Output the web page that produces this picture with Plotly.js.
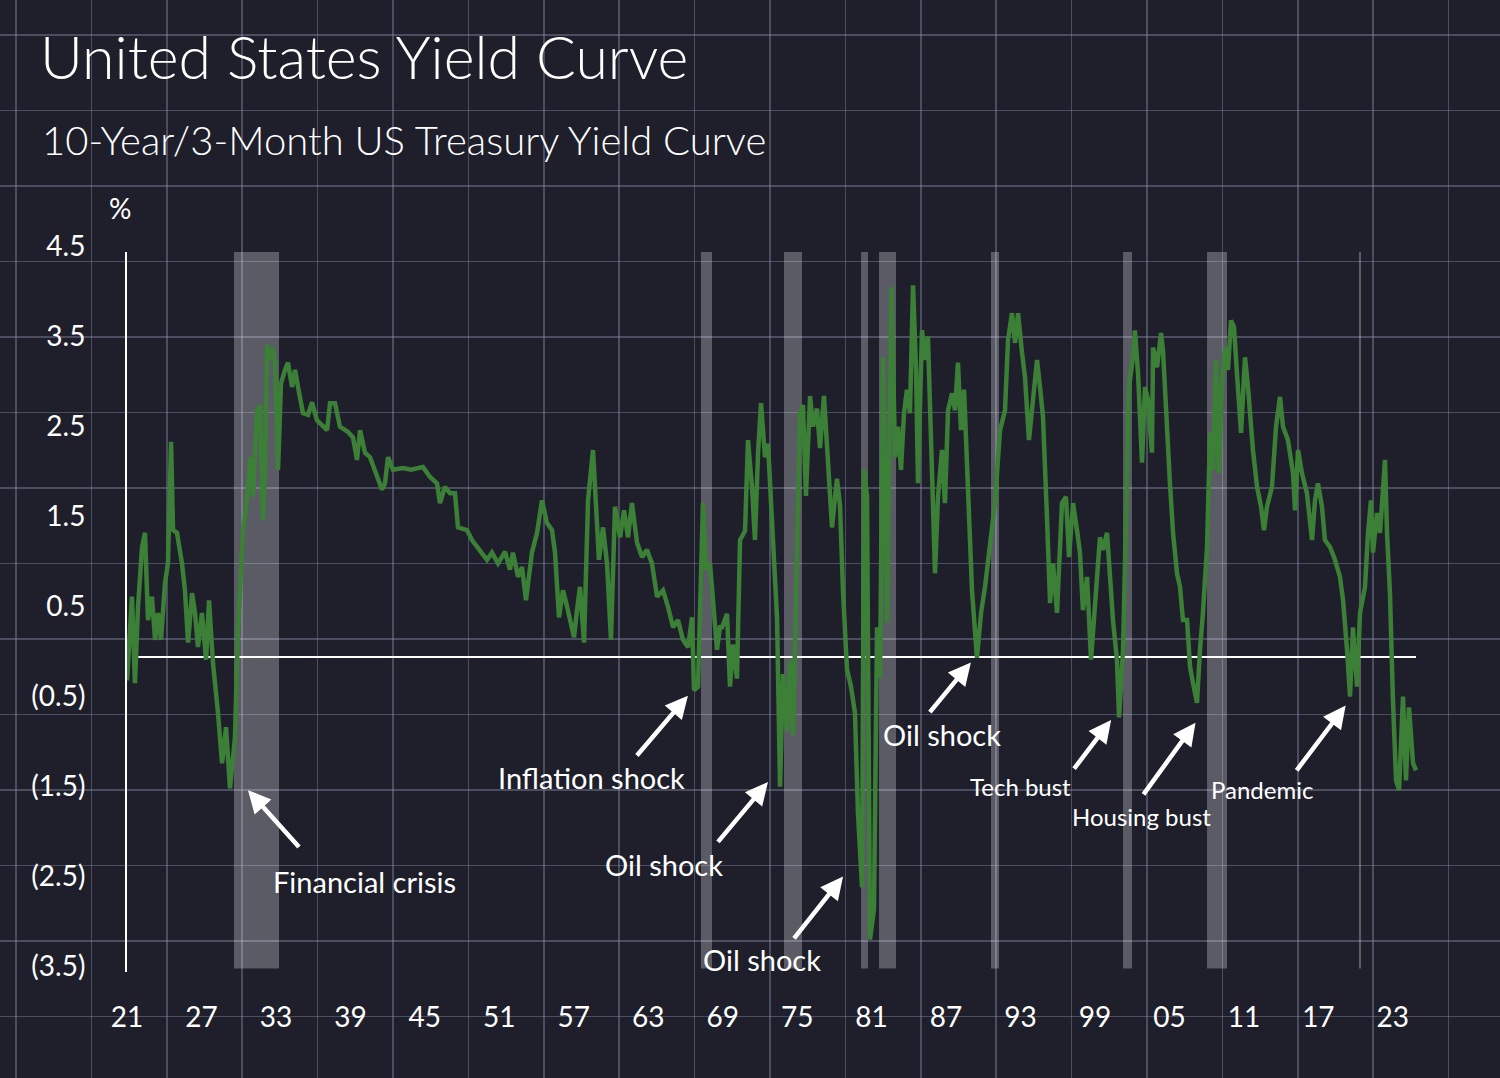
<!DOCTYPE html>
<html><head><meta charset="utf-8">
<script src="https://cdn.plot.ly/plotly-3.0.1.min.js"></script>
<style>html,body{margin:0;padding:0;background:#1e1f2b;}</style>
</head><body><div id="chart" style="width:1500px;height:1078px;"></div>
<script>
// ---- data ----
const years = [
1921.00,1921.40,1921.64,1921.89,1922.21,1922.45,1922.69,1923.01,1923.26,1923.50,1923.74,1924.06,1924.30,1924.55,1924.71,1925.03,1925.43,1925.67,1925.92,1926.24,1926.48,1926.72,1927.04,1927.37,1927.61,1927.93,1928.33,1928.66,1928.98,1929.30,1929.70,1929.94,1930.35,1930.67,1930.91,1931.15,1931.48,1931.72,1931.96,1932.12,1932.28,1932.52,1932.76,1932.93,1933.17,1933.41,1933.73,1933.97,1934.30,1934.54,1934.78,1935.18,1935.58,1935.91,1936.31,1936.79,1937.12,1937.36,1937.76,1938.16,1938.81,1939.21,1939.53,1939.78,1940.18,1940.58,1940.98,1941.23,1941.55,1941.79,1942.03,1942.43,1943.24,1943.88,1944.85,
1945.42,1945.98,1946.22,1946.62,1947.03,1947.43,1947.67,1948.40,1948.80,1949.44,1950.01,1950.41,1950.90,1951.46,1951.86,1952.10,1952.51,1952.83,1953.15,1953.63,1954.04,1954.44,1954.84,1955.25,1955.49,1955.81,1956.13,1956.46,1956.70,1957.02,1957.26,1957.50,1957.83,1958.15,1958.55,1958.79,1959.03,1959.36,1959.68,1960.00,1960.32,1960.73,1961.05,1961.37,1961.69,1962.10,1962.50,1962.90,1963.30,1963.71,1964.19,1964.59,1965.00,1965.40,1965.80,1966.21,1966.53,1966.69,1967.01,1967.41,1967.66,1967.98,1968.22,1968.54,1968.78,
1968.95,1969.35,1969.59,1969.83,1970.15,1970.40,1970.80,1971.04,1971.36,1971.60,1971.85,1972.09,1972.41,1972.65,1972.97,1973.38,1973.62,1973.86,1974.18,1974.42,1974.67,1974.99,1975.23,1975.47,1975.71,1976.04,1976.28,1976.60,1976.84,1977.16,1977.49,1977.81,1978.21,1978.45,1978.70,1979.02,1979.34,1979.66,1979.90,1980.23,1980.39,1980.63,1980.87,1981.19,1981.44,1981.68,1981.92,1982.24,1982.60,1982.89,
1983.13,1983.37,1983.61,1983.85,1984.09,1984.34,1984.58,1984.74,1985.06,1985.30,1985.54,1985.87,1986.11,1986.35,1986.67,1986.91,1987.16,1987.48,1987.72,1987.96,1988.20,1988.45,1988.69,1989.09,1989.49,1989.82,1990.14,1990.54,1990.94,1991.35,1991.75,1991.99,1992.31,1992.56,1992.80,1993.12,1993.36,1993.68,1994.01,1994.33,1994.57,1994.81,1995.13,1995.38,1995.62,1995.94,1996.34,1996.66,1996.91,1997.23,1997.55,1997.79,1998.03,1998.36,1998.68,1999.00,1999.40,1999.65,1999.97,2000.29,2000.45,2000.77,2000.94,2001.26,2001.50,2001.74,2002.06,2002.22,2002.47,2002.79,2003.03,2003.27,2003.59,2003.68,2004.00,2004.32,2004.48,2004.80,2005.04,2005.29,2005.61,2005.85,2006.09,2006.42,2006.66,2006.90,2007.22,2007.46,2007.70,2008.03,2008.27,2008.51,2008.75,2008.99,2009.23,2009.48,2009.72,2009.96,2010.20,2010.44,2010.77,2011.09,2011.33,2011.73,2012.06,2012.38,2012.62,2012.86,2013.26,2013.59,2013.91,2014.15,2014.55,2014.96,2015.12,2015.36,2015.68,2016.08,2016.49,2016.73,2016.97,2017.29,2017.53,2017.94,2018.34,2018.74,2018.99,2019.31,2019.55,2019.79,2020.11,2020.36,2020.76,2021.00,2021.24,2021.40,2021.73,2021.97,2022.21,2022.37,2022.53,2022.77,2023.01,2023.26,2023.50,2023.82,2024.06,2024.30,2024.63,2024.87
];
const spread = [
-0.26,0.67,-0.29,0.56,1.22,1.38,0.41,0.67,0.19,0.49,0.19,0.82,1.04,2.39,1.41,1.38,1.04,0.74,0.16,0.71,0.49,0.11,0.49,-0.03,0.63,-0.07,-0.62,-1.18,-0.78,-1.46,-0.89,0.30,1.41,1.74,2.22,1.78,2.74,2.80,1.52,2.08,3.47,3.30,3.44,3.27,2.08,3.04,3.19,3.27,3.00,3.19,3.00,2.71,2.69,2.83,2.63,2.56,2.52,2.82,2.82,2.56,2.50,2.44,2.19,2.52,2.27,2.22,2.08,1.97,1.86,1.93,2.22,2.08,2.10,2.08,2.11,
2.00,1.93,1.71,1.89,1.82,1.82,1.44,1.41,1.30,1.19,1.08,1.16,1.04,1.17,0.97,1.16,0.89,1.00,0.63,1.16,1.38,1.74,1.49,1.41,1.16,0.44,0.74,0.56,0.41,0.22,0.52,0.78,0.16,1.74,2.30,1.78,1.08,1.44,1.04,0.19,1.67,1.33,1.63,1.33,1.71,1.27,1.11,1.19,1.04,0.67,0.74,0.56,0.33,0.41,0.19,0.11,0.44,-0.37,-0.33,1.71,0.97,1.04,0.56,0.08,0.33,
0.33,0.48,-0.33,0.14,-0.24,1.30,1.40,2.41,1.89,1.30,2.27,2.82,2.22,2.37,1.60,0.43,-1.44,-0.19,-0.82,-0.04,-0.87,1.30,2.71,2.80,1.79,2.90,2.56,2.76,2.32,2.90,2.08,1.44,1.98,1.69,0.72,-0.14,-0.33,-0.62,-1.73,-2.56,2.08,1.79,-3.14,-2.80,0.33,-0.24,3.33,0.38,4.11,2.22,
2.56,2.08,2.71,2.97,2.71,4.13,3.19,1.93,3.63,3.30,3.56,2.00,0.93,1.78,2.30,1.71,2.74,2.93,2.74,3.27,2.52,2.97,2.08,0.74,-0.01,0.49,0.78,1.27,1.71,2.52,2.74,3.52,3.82,3.49,3.82,3.38,3.11,2.41,2.82,3.30,3.00,2.67,1.56,0.60,1.04,0.49,1.71,1.78,1.11,1.71,1.41,1.16,0.52,0.89,-0.03,0.60,1.33,1.19,1.38,0.74,0.41,-0.03,-0.67,0.08,1.86,3.00,3.33,3.63,3.15,2.16,3.00,2.86,2.27,3.44,3.22,3.60,3.41,2.49,1.93,1.38,0.93,0.78,0.41,0.41,-0.11,-0.29,-0.51,0.08,0.49,1.22,2.49,2.08,3.30,2.04,3.04,3.44,3.19,3.74,3.67,3.15,2.49,3.33,3.00,2.30,1.89,1.67,1.41,1.67,1.89,2.56,2.89,2.56,2.41,2.04,1.63,2.30,2.04,1.82,1.30,1.74,1.93,1.67,1.30,1.22,1.08,0.89,0.63,0.08,-0.44,0.33,-0.33,0.49,0.78,1.38,1.74,1.16,1.60,1.38,1.89,2.19,1.38,0.71,-0.48,-1.37,-1.48,-0.44,-1.37,-0.56,-1.18,-1.26
];
const xTickVals = [1921,1927,1933,1939,1945,1951,1957,1963,1969,1975,1981,1987,1993,1999,2005,2011,2017,2023];
const xTickText = ['21','27','33','39','45','51','57','63','69','75','81','87','93','99','05','11','17','23'];
const yTickVals = [4.5,3.5,2.5,1.5,0.5,-0.5,-1.5,-2.5,-3.5];
const yTickText = ['4.5','3.5','2.5','1.5','0.5','(0.5)','(1.5)','(2.5)','(3.5)'];
const recessionStart = [1929.62,1967.25,1973.94,1980.15,1981.60,1990.62,2001.26,2008.03,2020.27];
const recessionEnd   = [1933.25,1968.14,1975.39,1980.71,1982.97,1991.27,2001.98,2009.64,2020.44];
const eventLabels = ['Financial crisis','Inflation shock','Oil shock','Oil shock','Oil shock','Tech bust','Housing bust','Pandemic'];
const eventYear  = [1930.75,1966.20,1972.65,1978.70,1989.00,2000.30,2007.10,2019.20];
const eventValue = [-1.48,-0.43,-1.39,-2.44,-0.06,-0.70,-0.73,-0.54];

// ---- layout / style options ----
const FONT = 'Lato, "Open Sans", sans-serif';
const labelPos = [ // text centre (x2/y2 coords), arrow tail offset (px), font size
  {tx:1940.10, ty:-2.49, ax:52,  ay:58, size:29},
  {tx:1958.39, ty:-1.34, ax:-52, ay:61, size:29},
  {tx:1964.27, ty:-2.30, ax:-51, ay:61, size:29},
  {tx:1972.17, ty:-3.36, ax:-50, ay:63, size:29},
  {tx:1986.67, ty:-0.86, ax:-42, ay:51, size:29},
  {tx:1992.96, ty:-1.44, ax:-38, ay:50, size:24},
  {tx:2002.71, ty:-1.77, ax:-53, ay:73, size:24},
  {tx:2012.46, ty:-1.47, ax:-50, ay:66, size:24}
];

const shapes = recessionStart.map((s,i)=>({
  type:'rect', xref:'x2', yref:'y2', x0:s, x1:recessionEnd[i], y0:-3.46, y1:4.5,
  fillcolor:'rgba(255,255,255,0.27)', line:{width:0}, layer:'below'
}));
shapes.push({type:'line', xref:'x2', yref:'y2', x0:1921.9, x1:2024.87, y0:0, y1:0,
  line:{color:'#ffffff', width:2}, layer:'below'});

const annotations = [];
eventLabels.forEach((t,i)=>{
  const p = labelPos[i];
  annotations.push({x:p.tx, y:p.ty, xref:'x2', yref:'y2', text:t, showarrow:false,
    xanchor:'center', yanchor:'middle', font:{family:FONT, size:p.size, color:'#ffffff'}});
  annotations.push({x:eventYear[i], y:eventValue[i], xref:'x2', yref:'y2', text:' ',
    showarrow:true, ax:p.ax, ay:p.ay, arrowhead:2, arrowsize:1, arrowwidth:4.5,
    arrowcolor:'#ffffff', standoff:0, borderpad:0, font:{size:2}});
});
annotations.push({x:40/1500, y:1-140/1078, xref:'paper', yref:'paper', xanchor:'left', yanchor:'middle',
  text:'10-Year/3-Month US Treasury Yield Curve', showarrow:false,
  font:{family:FONT, size:40, weight:300, color:'#ffffff'}});
annotations.push({x:120/1500, y:1-208/1078, xref:'paper', yref:'paper', xanchor:'center', yanchor:'middle',
  text:'%', showarrow:false, font:{family:FONT, size:28, color:'#ffffff'}});

const traces = [
  {x:[], y:[], xaxis:'x', yaxis:'y', type:'scatter', mode:'lines', showlegend:false, hoverinfo:'skip'},
  {x:years, y:spread, xaxis:'x2', yaxis:'y2', type:'scatter', mode:'lines',
   line:{color:'#3c7f37', width:4.5}, showlegend:false, hoverinfo:'skip'}
];

const gridColor = 'rgba(150,152,185,0.38)';
const layout = {
  width:1500, height:1078,
  margin:{l:0, r:0, t:0, b:0},
  paper_bgcolor:'#1e1f2b', plot_bgcolor:'rgba(0,0,0,0)',
  showlegend:false,
  title:{text:'United States Yield Curve', x:40/1500, xanchor:'left', xref:'paper',
    y:1-58/1078, yref:'paper', yanchor:'middle',
    font:{family:FONT, size:59, weight:300, color:'#ffffff'}},
  xaxis:{domain:[0,1], range:[0,1500], tick0:16, dtick:75.4, showgrid:true, gridcolor:gridColor, gridwidth:1.5,
    showticklabels:false, zeroline:false, showline:false, ticks:'', fixedrange:true, anchor:'y'},
  yaxis:{domain:[0,1], range:[1078,0], tick0:35, dtick:75.5, showgrid:true, gridcolor:gridColor, gridwidth:1.5,
    showticklabels:false, zeroline:false, showline:false, ticks:'', fixedrange:true, anchor:'x'},
  xaxis2:{domain:[127/1500, 1420/1500], range:[1921, 2025.19], anchor:'y2',
    tickmode:'array', tickvals:xTickVals, ticktext:xTickText,
    showgrid:false, zeroline:false, showline:false,
    ticks:'outside', ticklen:20, tickcolor:'rgba(0,0,0,0)',
    tickfont:{family:FONT, size:28, color:'#ffffff'}, fixedrange:true},
  yaxis2:{domain:[(1078-972)/1078, (1078-252)/1078], range:[-3.5, 4.5], anchor:'x2',
    tickmode:'array', tickvals:yTickVals, ticktext:yTickText, ticklabelshift:-6,
    showgrid:false, zeroline:false, showline:true, linecolor:'#ffffff', linewidth:2,
    ticks:'outside', ticklen:34, tickcolor:'rgba(0,0,0,0)',
    tickfont:{family:FONT, size:28, color:'#ffffff'}, fixedrange:true},
  shapes:shapes,
  annotations:annotations
};

Plotly.newPlot('chart', traces, layout, {displayModeBar:false, staticPlot:true});
</script>
</body></html>
